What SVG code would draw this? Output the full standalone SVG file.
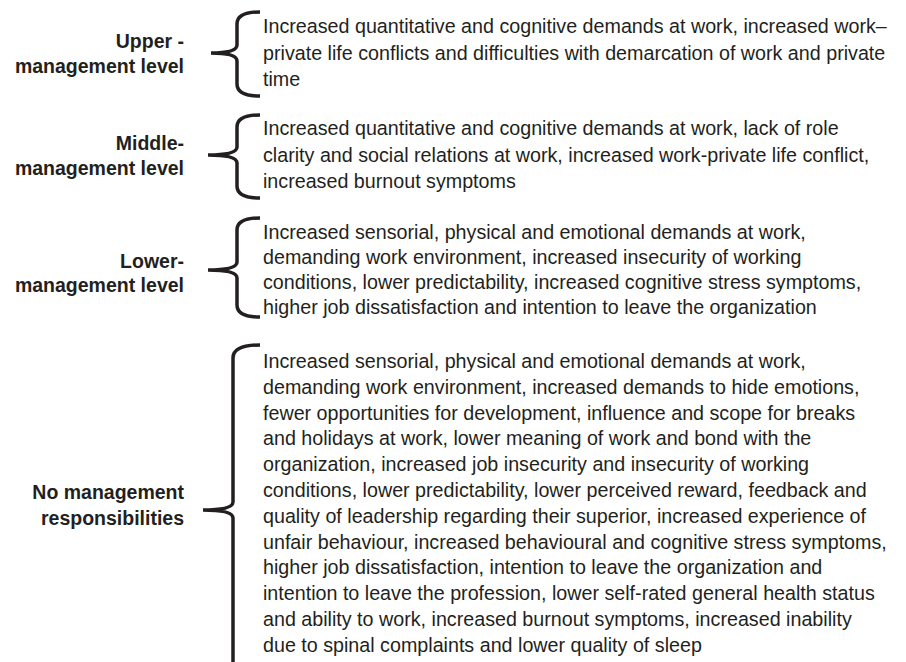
<svg xmlns="http://www.w3.org/2000/svg" width="906" height="662" viewBox="0 0 906 662">
<style>
.lbl{font-family:"Liberation Sans",Arial,sans-serif;font-weight:bold;font-size:19.5px;fill:#231f20;text-anchor:end}
.txt{font-family:"Liberation Sans",Arial,sans-serif;font-size:19.7px;fill:#231f20}
.br{fill:none;stroke:#231f20;stroke-width:3.5}
</style>
<rect width="906" height="662" fill="#ffffff"/>
<g id="connectors">
<path class="br" d="M260,12 Q237,12 237,24 L237,45 Q237,53 211,53 Q237,53 237,61 L237,84 Q237,96 260,96"/>
<path class="br" d="M260,115 Q237,115 237,127 L237,147 Q237,155 208,155 Q237,155 237,163 L237,186 Q237,198 260,198"/>
<path class="br" d="M260,218 Q237,218 237,230 L237,262 Q237,270 208,270 Q237,270 237,278 L237,305 Q237,317 260,317"/>
<path class="br" d="M260,345 Q233,345 233,358 L233,502 Q233,510 203,510 Q233,510 233,518 L233,664"/>
</g>
<g id="upper">
<text class="lbl" x="184" y="48">Upper -</text>
<text class="lbl" x="184" y="73">management level</text>
<text class="txt" x="263" y="33">Increased quantitative and cognitive demands at work, increased work–</text>
<text class="txt" x="263" y="59.5">private life conflicts and difficulties with demarcation of work and private</text>
<text class="txt" x="263" y="86">time</text>
</g>
<g id="middle">
<text class="lbl" x="184" y="150">Middle-</text>
<text class="lbl" x="184" y="175">management level</text>
<text class="txt" x="263" y="135">Increased quantitative and cognitive demands at work, lack of role</text>
<text class="txt" x="263" y="161.5">clarity and social relations at work, increased work-private life conflict,</text>
<text class="txt" x="263" y="188">increased burnout symptoms</text>
</g>
<g id="lower">
<text class="lbl" x="184" y="268">Lower-</text>
<text class="lbl" x="184" y="292">management level</text>
<text class="txt" x="263" y="239">Increased sensorial, physical and emotional demands at work,</text>
<text class="txt" x="263" y="264">demanding work environment, increased insecurity of working</text>
<text class="txt" x="263" y="289">conditions, lower predictability, increased cognitive stress symptoms,</text>
<text class="txt" x="263" y="314">higher job dissatisfaction and intention to leave the organization</text>
</g>
<g id="none">
<text class="lbl" x="184" y="499">No management</text>
<text class="lbl" x="184" y="525">responsibilities</text>
<text class="txt" x="263" y="368">Increased sensorial, physical and emotional demands at work,</text>
<text class="txt" x="263" y="393.8">demanding work environment, increased demands to hide emotions,</text>
<text class="txt" x="263" y="419.6">fewer opportunities for development, influence and scope for breaks</text>
<text class="txt" x="263" y="445.4">and holidays at work, lower meaning of work and bond with the</text>
<text class="txt" x="263" y="471.2">organization, increased job insecurity and insecurity of working</text>
<text class="txt" x="263" y="497">conditions, lower predictability, lower perceived reward, feedback and</text>
<text class="txt" x="263" y="522.8">quality of leadership regarding their superior, increased experience of</text>
<text class="txt" x="263" y="548.6">unfair behaviour, increased behavioural and cognitive stress symptoms,</text>
<text class="txt" x="263" y="574.4">higher job dissatisfaction, intention to leave the organization and</text>
<text class="txt" x="263" y="600.2">intention to leave the profession, lower self-rated general health status</text>
<text class="txt" x="263" y="626">and ability to work, increased burnout symptoms, increased inability</text>
<text class="txt" x="263" y="651.8">due to spinal complaints and lower quality of sleep</text>
</g>
</svg>
